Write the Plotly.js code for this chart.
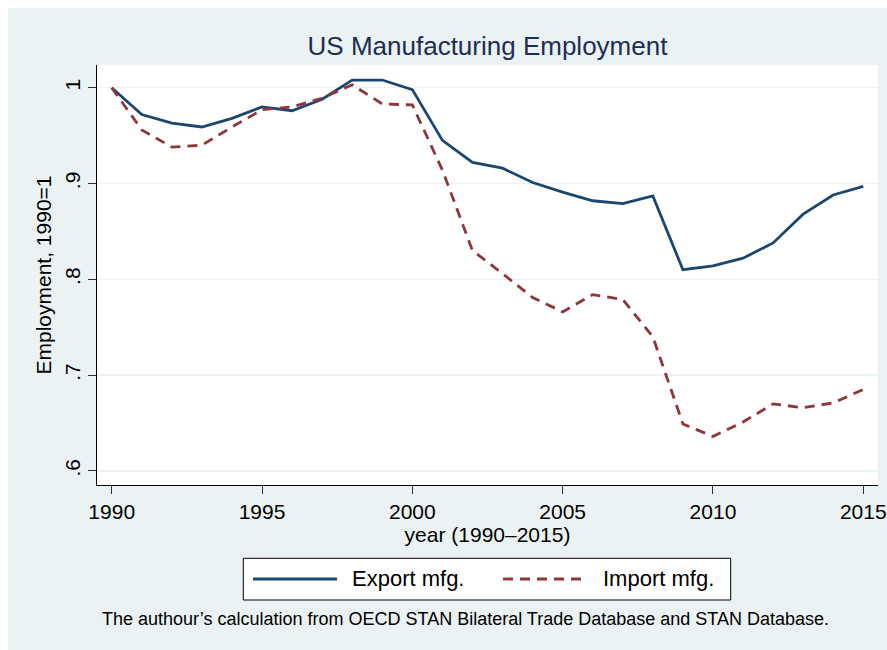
<!DOCTYPE html>
<html>
<head>
<meta charset="utf-8">
<script src="https://cdn.plot.ly/plotly-3.0.1.min.js"></script>
<style>
  html, body { margin: 0; padding: 0; background: #ffffff; }
  #chart { position: absolute; left: 8px; top: 8px; width: 879px; height: 642px; }
</style>
</head>
<body>
<div id="chart"></div>
<script>
// ---- data ----
const years = [1990,1991,1992,1993,1994,1995,1996,1997,1998,1999,2000,2001,2002,2003,2004,2005,2006,2007,2008,2009,2010,2011,2012,2013,2014,2015];
const exportMfg = [1.000,0.972,0.963,0.959,0.968,0.980,0.976,0.988,1.008,1.008,0.998,0.945,0.922,0.916,0.901,0.891,0.882,0.879,0.887,0.810,0.814,0.822,0.838,0.868,0.888,0.897];
const importMfg = [1.000,0.956,0.938,0.940,0.959,0.977,0.980,0.989,1.003,0.983,0.982,0.914,0.830,0.806,0.781,0.766,0.784,0.779,0.740,0.649,0.636,0.651,0.670,0.666,0.671,0.685];
const seriesNames = ['Export mfg.', 'Import mfg.'];
const xTickVals = [1990,1995,2000,2005,2010,2015];
const yTickVals = [0.6,0.7,0.8,0.9,1.0];
const yTickText = ['.6','.7','.8','.9','1'];
const titleText = 'US Manufacturing Employment';
const xTitle = 'year (1990–2015)';
const yTitle = 'Employment, 1990=1';
const noteText = 'The authour’s calculation from OECD STAN Bilateral Trade Database and STAN Database.';

const FONT = 'Liberation Sans, Arial, Helvetica, sans-serif';
const BLUE = '#1a476f';
const RED = '#90353b';
const BG = '#eaf2f3';

// plot area in page pixels (for converting legend geometry to paper coords)
const PL = 97, PR = 878, PT = 65, PB = 485;
const px = x => (x - PL) / (PR - PL);
const py = y => (PB - y) / (PB - PT);

const traces = [
  { x: years, y: exportMfg, type: 'scatter', mode: 'lines', name: seriesNames[0],
    line: { color: BLUE, width: 2.8 }, showlegend: false },
  { x: years, y: importMfg, type: 'scatter', mode: 'lines', name: seriesNames[1],
    line: { color: RED, width: 2.8, dash: '10px,7px' }, showlegend: false }
];

const layout = {
  width: 879, height: 642,
  margin: { l: PL - 8, r: 887 - PR, t: PT - 8, b: 650 - PB, pad: 0 },
  paper_bgcolor: BG,
  plot_bgcolor: '#ffffff',
  font: { family: FONT, color: '#000000', size: 21 },
  title: { text: titleText, font: { family: FONT, size: 26, color: '#1e2d53' },
           x: 0.5, xref: 'paper', xanchor: 'center', y: 0.941, yref: 'container', yanchor: 'middle' },
  xaxis: {
    range: [1989.51, 2015.49], tickmode: 'array', tickvals: xTickVals,
    showgrid: false, zeroline: false, showline: true, linecolor: '#000000', linewidth: 1,
    ticks: 'outside', ticklen: 8, tickcolor: '#333333', tickwidth: 1,
    tickfont: { family: FONT, size: 21, color: '#000000' },
    title: { text: xTitle, font: { family: FONT, size: 21, color: '#000000' }, standoff: 2 }
  },
  yaxis: {
    range: [0.5853, 1.0237], tickmode: 'array', tickvals: yTickVals, ticktext: yTickText,
    tickangle: -90,
    showgrid: true, gridcolor: BG, gridwidth: 1.5, zeroline: false,
    showline: true, linecolor: '#000000', linewidth: 1,
    ticks: 'outside', ticklen: 8, tickcolor: '#333333', tickwidth: 1,
    tickfont: { family: FONT, size: 21, color: '#000000' },
    title: { text: yTitle, font: { family: FONT, size: 21, color: '#000000' }, standoff: 3 }
  },
  shapes: [
    { type: 'rect', xref: 'paper', yref: 'paper', x0: px(243.3), x1: px(730.7), y0: py(600), y1: py(558.3),
      line: { color: '#000000', width: 1 }, fillcolor: '#ffffff', layer: 'above' },
    { type: 'line', xref: 'paper', yref: 'paper', x0: px(253), x1: px(337), y0: py(579), y1: py(579),
      line: { color: BLUE, width: 2.8 } },
    { type: 'line', xref: 'paper', yref: 'paper', x0: px(503), x1: px(588), y0: py(579), y1: py(579),
      line: { color: RED, width: 2.8, dash: '10px,7px' } }
  ],
  annotations: [
    { text: seriesNames[0], xref: 'paper', yref: 'paper', x: px(350), y: py(578), xanchor: 'left', yanchor: 'middle',
      showarrow: false, font: { family: FONT, size: 22, color: '#000000' } },
    { text: seriesNames[1], xref: 'paper', yref: 'paper', x: px(601), y: py(578), xanchor: 'left', yanchor: 'middle',
      showarrow: false, font: { family: FONT, size: 22, color: '#000000' } },
    { text: noteText, xref: 'paper', yref: 'paper', x: px(100), y: py(619), xanchor: 'left', yanchor: 'middle',
      showarrow: false, font: { family: FONT, size: 18, color: '#000000' } }
  ]
};

Plotly.newPlot('chart', traces, layout, { displayModeBar: false, staticPlot: true });
</script>
</body>
</html>
